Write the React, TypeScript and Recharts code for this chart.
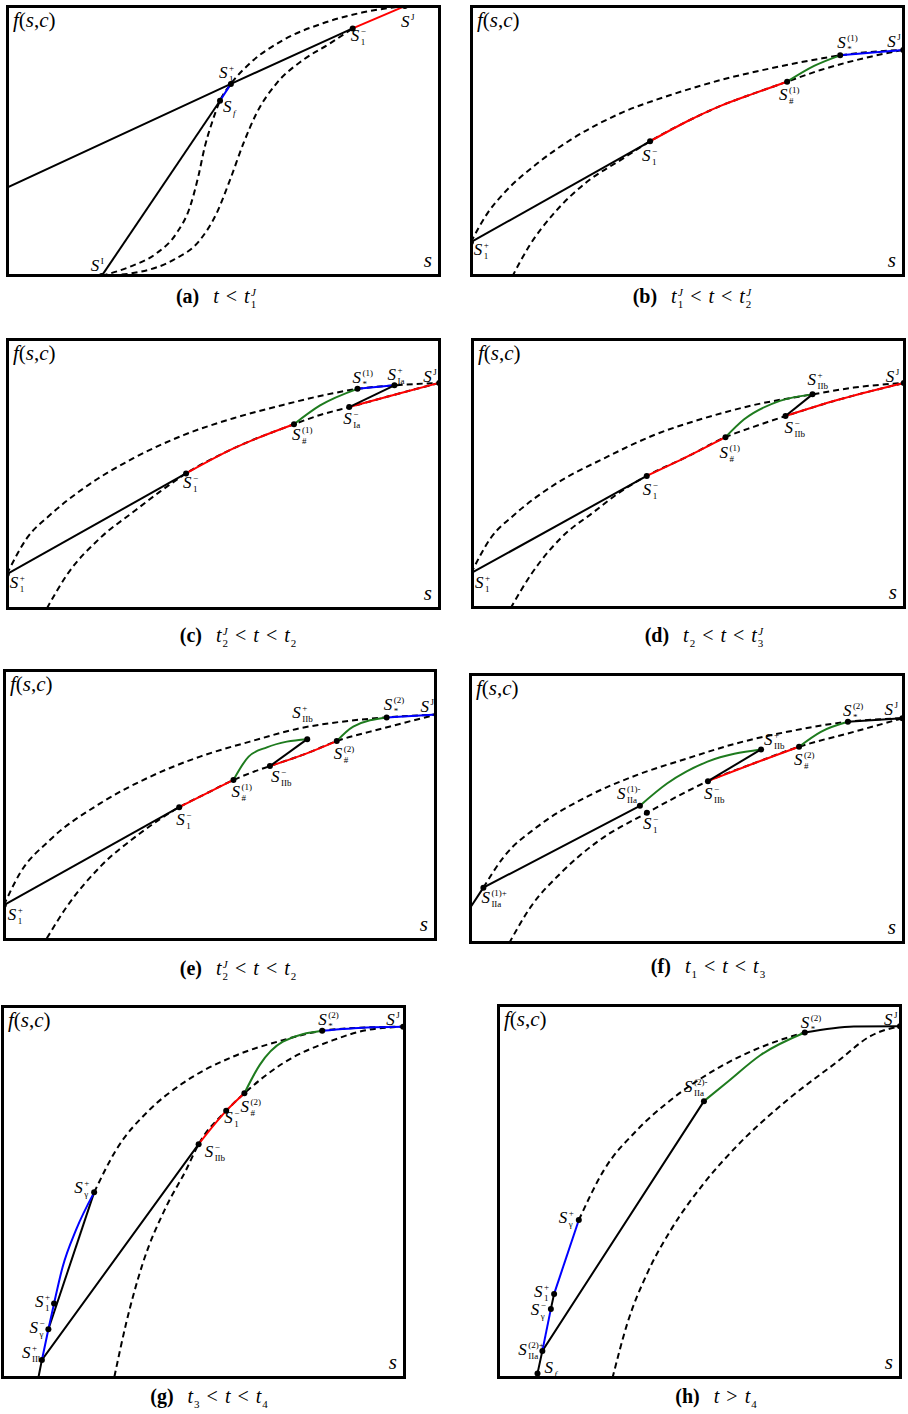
import React from "react";
import { ComposedChart, Line, Scatter, XAxis, YAxis } from "recharts";

type Pt = [number, number]; // [s, f] in % of the panel axes
type Seg = { pts: Pt[]; color: string; dash?: boolean; curve?: boolean };

const RED = "#ff0000";
const GREEN = "#1e7b1e";
const BLUE = "#0000ff";
const BLACK = "#000000";
const SERIF = '"Liberation Serif", "Times New Roman", serif';

const between = (arr: Pt[], a: Pt, b: Pt) => arr.slice(arr.indexOf(a), arr.indexOf(b) + 1);

// label text for every named state
const NAMES: Record<string, { sub?: string; sup?: string; subItalic?: boolean }> = {
  SI: { sup: "I" },
  Sf: { sub: "f", subItalic: true },
  S1p: { sub: "1", sup: "+" },
  S1m: { sub: "1", sup: "\u2212" },
  SJ: { sup: "J" },
  Ssh1: { sub: "#", sup: "(1)" },
  Sst1: { sub: "*", sup: "(1)" },
  Ssh2: { sub: "#", sup: "(2)" },
  Sst2: { sub: "*", sup: "(2)" },
  SIap: { sub: "Ia", sup: "+" },
  SIam: { sub: "Ia", sup: "\u2212" },
  SIIbp: { sub: "IIb", sup: "+" },
  SIIbm: { sub: "IIb", sup: "\u2212" },
  SIIa1p: { sub: "IIa", sup: "(1)+" },
  SIIa1m: { sub: "IIa", sup: "(1)-" },
  SIIa2p: { sub: "IIa", sup: "(2)+" },
  SIIa2m: { sub: "IIa", sup: "(2)-" },
  Sgp: { sub: "\u03b3", sup: "+" },
  Sgm: { sub: "\u03b3", sup: "\u2212" },
};

// ---------- (a) t < t1J ----------
const aPts: Record<string, Pt> = { SI: [22.0, 0.4], Sf: [49.2, 64.8], S1p: [51.7, 71.0], S1m: [79.7, 91.4], SJ: [91.7, 99.6] };
const aInner: Pt[] = [aPts.SI, [28.5, 3.8], [34.6, 8.7], [39.2, 16.1], [42.3, 25.8], [44.2, 36.9], [45.7, 47.9], [47.3, 56.5], aPts.Sf, aPts.S1p, [56.1, 78.6], [63.7, 87.1], [72.9, 93.3], [82.1, 97.3], aPts.SJ];
const aOuter: Pt[] = [aPts.SI, [30.8, 1.9], [38.5, 6.3], [44.6, 13.6], [48.4, 23.4], [51.5, 35.7], [54.6, 49.2], [57.6, 60.2], [62.2, 71.2], [68.3, 79.8], [74.5, 85.9], aPts.S1m];
const aShockStart: Pt = [0, 32.7];

// ---------- (b) t1J < t < t2J ----------
const bPts: Record<string, Pt> = { S1p: [0.2, 12.8], S1m: [41.4, 49.9], Ssh1: [72.9, 71.8], Sst1: [85.1, 81.5], SJ: [99.6, 83.5] };
const bUpper: Pt[] = [bPts.S1p, [4.0, 23.4], [7.8, 30.8], [15.5, 41.8], [23.1, 50.4], [34.6, 60.2], [46.1, 66.9], [57.6, 72.4], [69.1, 76.7], [80.6, 80.3], bPts.Sst1, bPts.SJ];
const bLower: Pt[] = [[9.7, 0.1], [13.5, 11.1], [19.3, 23.4], [26.9, 35.0], [34.6, 43.0], bPts.S1m, [50.9, 58.0], [57.6, 62.9], [65.3, 67.5], bPts.Ssh1, [80.6, 76.1], [92.1, 81.0], bPts.SJ];
const bGreen: Pt[] = [bPts.Ssh1, [79.1, 77.6], bPts.Sst1];

// ---------- (c) t2J < t < t2 ----------
const cPts: Record<string, Pt> = { S1p: [0.2, 13.2], S1m: [41.4, 50.2], Ssh1: [66.2, 68.3], SIam: [78.9, 74.6], Sst1: [80.8, 81.3], SIap: [89.3, 82.6], SJ: [99.6, 83.5] };
const cUpper: Pt[] = [cPts.S1p, [4.8, 26.4], [10.1, 34.9], [17.8, 44.7], [29.3, 55.8], [40.8, 64.3], [52.3, 70.5], [63.7, 75.4], [75.2, 79.7], cPts.Sst1, cPts.SIap, cPts.SJ];
const cLower: Pt[] = [[9.4, 0.6], [14.0, 12.9], [21.6, 26.4], [29.3, 36.1], [35.4, 43.5], cPts.S1m, [52.3, 59.4], cPts.Ssh1, [72.2, 71.7], cPts.SIam, [90.6, 79.7], cPts.SJ];
const cGreen: Pt[] = [cPts.Ssh1, [72.2, 75.2], cPts.Sst1];

// ---------- (d) t2 < t < t3J ----------
const dPts: Record<string, Pt> = { S1p: [0, 13.2], S1m: [40.4, 49.1], Ssh1: [58.5, 63.4], SIIbm: [72.3, 71.2], SIIbp: [78.5, 79.2], SJ: [99.5, 83.4] };
const dUpper: Pt[] = [dPts.S1p, [4.5, 26.1], [9.9, 34.7], [19.1, 45.8], [30.6, 55.6], [42.1, 64.2], [53.6, 70.4], [65.1, 75.3], dPts.SIIbp, [88.0, 81.7], dPts.SJ];
const dLower: Pt[] = [[9.1, 0.3], [13.7, 12.5], [20.6, 26.1], [28.3, 35.9], [34.4, 43.3], dPts.S1m, [49.7, 56.2], dPts.Ssh1, [65.1, 67.3], dPts.SIIbm, [84.2, 77.1], dPts.SJ];
const dGreen: Pt[] = [dPts.Ssh1, [62.8, 70.0], [71.0, 76.8], dPts.SIIbp];

// ---------- (e) t2J < t < t2 ----------
const ePts: Record<string, Pt> = { S1p: [0.2, 13.2], S1m: [40.6, 49.2], Ssh1: [53.1, 59.2], SIIbm: [61.5, 64.3], SIIbp: [70.1, 74.2], Ssh2: [76.9, 73.5], Sst2: [88.4, 82.2], SJ: [99.9, 83.3] };
const eUpper: Pt[] = [ePts.S1p, [3.9, 24.9], [10.8, 37.1], [22.4, 50.6], [33.9, 60.4], [45.4, 67.8], [56.9, 73.3], [68.4, 78.2], [80.0, 81.0], ePts.Sst2, ePts.SJ];
const eLower: Pt[] = [[10.1, 1.0], [14.7, 12.6], [22.4, 27.3], [31.6, 39.6], ePts.S1m, [46.9, 54.3], ePts.Ssh1, [57.7, 62.2], ePts.SIIbm, [70.0, 69.0], ePts.Ssh2, [87.6, 78.2], ePts.SJ];
const eGreen1: Pt[] = [ePts.Ssh1, [56.6, 67.8], [60.8, 71.2], [65.4, 73.3], ePts.SIIbp];
const eGreen2: Pt[] = [ePts.Ssh2, [80.7, 78.8], ePts.Sst2];

// ---------- (f) t1 < t < t3 ----------
const fPts: Record<string, Pt> = { SIIa1p: [3.3, 20.8], SIIa1m: [39.2, 51.0], S1m: [40.8, 48.4], SIIbm: [54.8, 60.1], SIIbp: [67.0, 71.8], Ssh2: [75.7, 72.8], Sst2: [86.9, 82.0], SJ: [99.4, 83.3] };
const fUpper: Pt[] = [fPts.SIIa1p, [8.0, 32.2], [15.7, 43.3], [27.1, 54.4], [38.6, 62.4], [50.1, 68.5], [61.5, 74.1], [73.0, 78.3], fPts.Sst2, fPts.SJ];
const fLower: Pt[] = [[9.2, 0.3], [14.2, 13.8], [21.0, 26.1], [29.4, 37.7], fPts.S1m, [46.3, 53.2], fPts.SIIbm, [65.4, 66.7], fPts.Ssh2, [88.3, 78.3], fPts.SJ];
const fGreen1: Pt[] = [fPts.SIIa1m, [45.5, 59.3], [54.7, 67.3], fPts.SIIbp];
const fGreen2: Pt[] = [fPts.Ssh2, [80.7, 78.3], fPts.Sst2];
const fShockStart: Pt = [0.2, 13.2];

// ---------- (g) t3 < t < t4 ----------
const gPts: Record<string, Pt> = { SIIbp: [10.1, 5.1], Sgm: [11.7, 13.3], S1p: [13.1, 20.2], Sgp: [23.0, 49.9], SIIbm: [48.8, 62.8], S1m: [55.6, 71.7], Ssh2: [60.1, 76.4], Sst2: [79.3, 93.1], SJ: [99.3, 94.2] };
const gUpper: Pt[] = [gPts.SIIbp, gPts.Sgm, gPts.S1p, [15.2, 29.9], [18.5, 39.8], gPts.Sgp, [28.4, 61.2], [36.6, 71.9], [44.9, 79.1], [57.3, 86.2], [69.6, 90.6], gPts.Sst2, [90.3, 94.0], gPts.SJ];
const gLower: Pt[] = [[28.0, 0.6], [30.9, 14.9], [35.0, 30.9], [40.8, 46.1], [45.7, 55.9], gPts.SIIbm, gPts.S1m, gPts.Ssh2, [69.6, 84.4], [82.0, 90.6], [90.3, 93.3], gPts.SJ];
const gGreen: Pt[] = [gPts.Ssh2, [63.9, 84.0], [69.6, 90.2], gPts.Sst2];
const gShockStart: Pt = [9.2, 0.2];

// ---------- (h) t > t4 ----------
const hPts: Record<string, Pt> = { Sf: [10.0, 1.5], SIIa2p: [11.2, 7.5], Sgm: [13.3, 18.7], S1p: [14.1, 22.7], Sgp: [20.2, 42.4], SIIa2m: [51.1, 74.1], Sst2: [76.0, 92.4], SJ: [99.5, 94.1] };
const hUpper: Pt[] = [hPts.SIIa2p, hPts.Sgm, hPts.S1p, hPts.Sgp, [26.4, 55.7], [34.6, 66.4], [42.9, 74.4], [55.2, 83.3], [67.6, 89.5], hPts.Sst2, [88.1, 94.0], hPts.SJ];
const hLower: Pt[] = [[28.5, 0.2], [32.2, 14.9], [37.1, 28.2], [42.9, 39.7], [51.1, 52.2], [59.3, 62.2], [71.7, 74.4], [84.0, 84.6], [92.3, 91.5], hPts.SJ];
const hGreen: Pt[] = [hPts.SIIa2m, [56.9, 79.2], [65.1, 86.4], hPts.Sst2];

type PanelCfg = {
  left: number; top: number; w: number; h: number;
  segs: Seg[];
  pts: Record<string, Pt>;
  offs: Record<string, [number, number]>;
  caption: React.ReactNode; capX: number; capY: number;
};

function Tt({ sub, sup }: { sub?: string; sup?: string }) {
  return (
    <span style={{ whiteSpace: "nowrap" }}>
      <i>t</i>
      {(sub || sup) && (
        <span style={{ display: "inline-flex", flexDirection: "column", fontSize: 11, lineHeight: "12px", verticalAlign: "middle", marginLeft: 1 }}>
          <i>{sup ?? "\u00a0"}</i>
          <span>{sub ?? "\u00a0"}</span>
        </span>
      )}
    </span>
  );
}

function Cap({ tag, children }: { tag: string; children: React.ReactNode }) {
  return (
    <>
      <b>({tag})</b>
      <span style={{ marginLeft: 14 }}>{children}</span>
    </>
  );
}

const LT = <span style={{ margin: "0 7px" }}>&lt;</span>;
const GT = <span style={{ margin: "0 7px" }}>&gt;</span>;

const dash = (pts: Pt[]): Seg => ({ pts, color: BLACK, dash: true, curve: true });

const panels: PanelCfg[] = [
  {
    left: 6, top: 5, w: 435, h: 272,
    segs: [
      dash(aInner), dash(aOuter),
      { pts: [aPts.SI, aPts.Sf], color: BLACK },
      { pts: [aShockStart, aPts.S1p, aPts.S1m], color: BLACK },
      { pts: between(aInner, aPts.Sf, aPts.S1p), color: BLUE },
      { pts: [aPts.S1m, aPts.SJ], color: RED },
    ],
    pts: aPts,
    offs: { SI: [-11, -5], Sf: [3, 11], S1p: [-12, -6], S1m: [-2, 13], SJ: [-4, 21] },
    caption: <Cap tag="a"><Tt />{LT}<Tt sub="1" sup="J" /></Cap>, capX: 216, capY: 284,
  },
  {
    left: 470, top: 5, w: 435, h: 272,
    segs: [
      dash(bUpper), dash(bLower),
      { pts: [bPts.S1p, bPts.S1m], color: BLACK },
      { pts: between(bLower, bPts.S1m, bPts.Ssh1), color: RED, curve: true },
      { pts: bGreen, color: GREEN, curve: true },
      { pts: [bPts.Sst1, bPts.SJ], color: BLUE },
    ],
    pts: bPts,
    offs: { S1p: [3, 13], S1m: [-8, 20], Ssh1: [-8, 18], Sst1: [-3, -7], SJ: [-16, -3] },
    caption: <Cap tag="b"><Tt sub="1" sup="J" />{LT}<Tt />{LT}<Tt sub="2" sup="J" /></Cap>, capX: 692, capY: 284,
  },
  {
    left: 6, top: 338, w: 435, h: 272,
    segs: [
      dash(cUpper), dash(cLower),
      { pts: [cPts.S1p, cPts.S1m], color: BLACK },
      { pts: between(cLower, cPts.S1m, cPts.Ssh1), color: RED, curve: true },
      { pts: between(cLower, cPts.SIam, cPts.SJ), color: RED, curve: true },
      { pts: cGreen, color: GREEN, curve: true },
      { pts: [cPts.Sst1, cPts.SIap], color: BLUE },
      { pts: [cPts.SIam, cPts.SIap], color: BLACK },
    ],
    pts: cPts,
    offs: { S1p: [3, 14], S1m: [-3, 15], Ssh1: [-2, 16], SIam: [-6, 17], Sst1: [-5, -6], SIap: [-7, -5], SJ: [-16, -1] },
    caption: <Cap tag="c"><Tt sub="2" sup="J" />{LT}<Tt />{LT}<Tt sub="2" /></Cap>, capX: 238, capY: 623,
  },
  {
    left: 471, top: 338, w: 435, h: 271,
    segs: [
      dash(dUpper), dash(dLower),
      { pts: [dPts.S1p, dPts.S1m], color: BLACK },
      { pts: between(dLower, dPts.S1m, dPts.Ssh1), color: RED, curve: true },
      { pts: between(dLower, dPts.SIIbm, dPts.SJ), color: RED, curve: true },
      { pts: dGreen, color: GREEN, curve: true },
      { pts: [dPts.SIIbm, dPts.SIIbp], color: BLACK },
    ],
    pts: dPts,
    offs: { S1p: [4, 15], S1m: [-4, 19], Ssh1: [-6, 21], SIIbm: [-1, 17], SIIbp: [-5, -9], SJ: [-18, -1] },
    caption: <Cap tag="d"><Tt sub="2" />{LT}<Tt />{LT}<Tt sub="3" sup="J" /></Cap>, capX: 704, capY: 623,
  },
  {
    left: 3, top: 669, w: 434, h: 272,
    segs: [
      dash(eUpper), dash(eLower),
      { pts: [ePts.S1p, ePts.S1m], color: BLACK },
      { pts: between(eLower, ePts.S1m, ePts.Ssh1), color: RED, curve: true },
      { pts: between(eLower, ePts.SIIbm, ePts.Ssh2), color: RED, curve: true },
      { pts: eGreen1, color: GREEN, curve: true },
      { pts: eGreen2, color: GREEN, curve: true },
      { pts: [ePts.Sst2, ePts.SJ], color: BLUE },
      { pts: [ePts.SIIbm, ePts.SIIbp], color: BLACK },
    ],
    pts: ePts,
    offs: { S1p: [4, 15], S1m: [-3, 18], Ssh1: [-2, 17], SIIbm: [1, 16], SIIbp: [-15, -21], Ssh2: [-3, 18], Sst2: [-3, -7], SJ: [-16, -2] },
    caption: <Cap tag="e"><Tt sub="2" sup="J" />{LT}<Tt />{LT}<Tt sub="2" /></Cap>, capX: 238, capY: 956,
  },
  {
    left: 469, top: 673, w: 436, h: 271,
    segs: [
      dash(fUpper), dash(fLower),
      { pts: [fShockStart, fPts.SIIa1p, fPts.SIIa1m], color: BLACK },
      { pts: between(fLower, fPts.SIIbm, fPts.Ssh2), color: RED, curve: true },
      { pts: fGreen1, color: GREEN, curve: true },
      { pts: fGreen2, color: GREEN, curve: true },
      { pts: [fPts.SIIbm, fPts.SIIbp], color: BLACK },
      { pts: [fPts.Sst2, fPts.SJ], color: BLACK },
    ],
    pts: fPts,
    offs: { SIIa1p: [-2, 15], SIIa1m: [-23, -7], S1m: [-4, 16], SIIbm: [-4, 18], SIIbp: [3, -4], Ssh2: [-5, 18], Sst2: [-5, -6], SJ: [-18, -3] },
    caption: <Cap tag="f"><Tt sub="1" />{LT}<Tt />{LT}<Tt sub="3" /></Cap>, capX: 708, capY: 954,
  },
  {
    left: 1, top: 1005, w: 405, h: 374,
    segs: [
      dash(between(gUpper, gPts.Sgp, gPts.SJ)), dash(gLower),
      { pts: [gShockStart, gPts.SIIbp, gPts.SIIbm], color: BLACK },
      { pts: [gPts.Sgm, gPts.Sgp], color: BLACK },
      { pts: between(gUpper, gPts.SIIbp, gPts.Sgp), color: BLUE, curve: true },
      { pts: between(gUpper, gPts.Sst2, gPts.SJ), color: BLUE, curve: true },
      { pts: between(gLower, gPts.SIIbm, gPts.Ssh2), color: RED, curve: true },
      { pts: gGreen, color: GREEN, curve: true },
    ],
    pts: gPts,
    offs: { SIIbp: [-20, -2], Sgm: [-19, 4], S1p: [-19, 4], Sgp: [-20, 1], SIIbm: [6, 13], S1m: [-2, 12], Ssh2: [-4, 19], Sst2: [-4, -6], SJ: [-17, -2] },
    caption: <Cap tag="g"><Tt sub="3" />{LT}<Tt />{LT}<Tt sub="4" /></Cap>, capX: 209, capY: 1384,
  },
  {
    left: 497, top: 1004, w: 405, h: 375,
    segs: [
      dash(between(hUpper, hPts.Sgp, hPts.Sst2)), dash(hLower),
      { pts: [hPts.Sf, hPts.SIIa2p, hPts.SIIa2m], color: BLACK },
      { pts: between(hUpper, hPts.SIIa2p, hPts.Sgm), color: BLUE, curve: true },
      { pts: between(hUpper, hPts.Sgm, hPts.S1p), color: BLACK, curve: true },
      { pts: between(hUpper, hPts.S1p, hPts.Sgp), color: BLUE, curve: true },
      { pts: between(hUpper, hPts.Sst2, hPts.SJ), color: BLACK, curve: true },
      { pts: hGreen, color: GREEN, curve: true },
    ],
    pts: hPts,
    offs: { Sf: [7, 0], SIIa2p: [-24, 4], Sgm: [-20, 6], S1p: [-20, 3], Sgp: [-20, 3], SIIa2m: [-20, -9], Sst2: [-4, -5], SJ: [-16, -1] },
    caption: <Cap tag="h"><Tt />{GT}<Tt sub="4" /></Cap>, capX: 716, capY: 1384,
  },
];

function PointMark(props: any) {
  const { cx, cy, payload, offs } = props;
  if (cx == null || cy == null) return null;
  const spec = NAMES[payload.name] || {};
  const [dx, dy] = offs[payload.name] || [4, 14];
  const x = cx + dx;
  const y = cy + dy;
  return (
    <g>
      <circle cx={cx} cy={cy} r={3} fill={BLACK} />
      <text x={x} y={y} fontFamily={SERIF} fontStyle="italic" fontSize={17} fill={BLACK}>S</text>
      {spec.sup && (
        <text x={x + 10} y={y - 7} fontFamily={SERIF} fontSize={9} fill={BLACK}>{spec.sup}</text>
      )}
      {spec.sub && (
        <text x={x + 10} y={y + 4} fontFamily={SERIF} fontSize={9} fontStyle={spec.subItalic ? "italic" : "normal"} fill={BLACK}>{spec.sub}</text>
      )}
    </g>
  );
}

function Panel({ cfg }: { cfg: PanelCfg }) {
  const { left, top, w, h } = cfg;
  const dots = Object.entries(cfg.pts).map(([name, [s, f]]) => ({ name, s, f }));
  return (
    <>
      <div style={{ position: "absolute", left, top, width: w, height: h }}>
        <ComposedChart width={w} height={h} margin={{ top: 0, right: 0, bottom: 0, left: 0 }} style={{ position: "absolute", left: 0, top: 0 }}>
          <XAxis type="number" dataKey="s" domain={[0, 100]} hide />
          <YAxis type="number" dataKey="f" domain={[0, 100]} hide />
          {cfg.segs.map((sg, i) => (
            <Line
              key={i}
              data={sg.pts.map(([s, f]) => ({ s, f }))}
              dataKey="f"
              type={sg.curve ? "monotone" : "linear"}
              stroke={sg.color}
              strokeWidth={2}
              strokeDasharray={sg.dash ? "6 4" : undefined}
              dot={false}
              activeDot={false}
              isAnimationActive={false}
            />
          ))}
          <Scatter
            data={dots}
            dataKey="f"
            isAnimationActive={false}
            shape={(p: any) => <PointMark {...p} offs={cfg.offs} />}
          />
        </ComposedChart>
        <div style={{ position: "absolute", inset: 0, border: "3px solid #000", boxSizing: "border-box" }} />
        <div style={{ position: "absolute", left: 7, top: 3, fontFamily: SERIF, fontSize: 21 }}>
          <i>f</i>(<i>s</i>,<i>c</i>)
        </div>
        <div style={{ position: "absolute", right: 9, bottom: 4, fontFamily: SERIF, fontSize: 21 }}>
          <i>s</i>
        </div>
      </div>
      <div style={{ position: "absolute", left: cfg.capX - 150, width: 300, textAlign: "center", top: cfg.capY, fontFamily: SERIF, fontSize: 20, lineHeight: "24px", whiteSpace: "nowrap" }}>
        {cfg.caption}
      </div>
    </>
  );
}

export default function App() {
  return (
    <div style={{ position: "absolute", left: 0, top: 0, width: 908, height: 1414, background: "#fff" }}>
      {panels.map((p, i) => (
        <Panel key={i} cfg={p} />
      ))}
    </div>
  );
}
